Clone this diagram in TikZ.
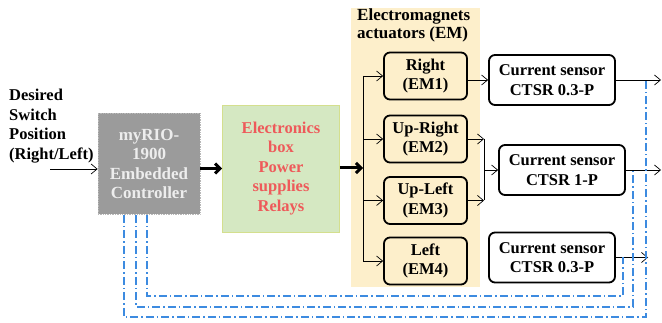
\documentclass[tikz,border=0pt]{standalone}
\usepackage{fontspec}
\setmainfont{Liberation Serif}
\usetikzlibrary{arrows.meta,calc}
\definecolor{rioGray}{HTML}{9B9B9B}
\definecolor{rioEdge}{HTML}{B8B8B8}
\definecolor{rioText}{HTML}{EDEDED}
\definecolor{boxGreen}{HTML}{D5E8C2}
\definecolor{boxGreenEdge}{HTML}{D4DF8E}
\definecolor{redText}{HTML}{EE5A5A}
\definecolor{panelYellow}{HTML}{FDEFCB}
\definecolor{sigBlue}{HTML}{3D8BE0}
\begin{document}
\begin{tikzpicture}[x=1pt,y=-1pt,
  txt/.style={font=\bfseries\fontsize{16.5}{19.5}\selectfont, align=center, inner sep=0pt},
  rndbox/.style={txt, draw, line width=1.8pt, rounded corners=6pt, inner sep=0pt},
  embox/.style={rndbox, minimum width=83pt, minimum height=47pt},
  sensbox/.style={rndbox, fill=white, minimum width=126pt, minimum height=50pt},
  thin arrow/.style={line width=0.7pt, -{Straight Barb[length=6pt,width=10pt]}},
  thick arrow/.style={line width=3pt, -{Straight Barb[length=5pt,width=10pt]}},
  sig/.style={draw=sigBlue, line width=1.1pt, dash pattern=on 8pt off 3pt on 1.5pt off 3pt}]
\useasboundingbox (0,0) rectangle (662,323);

% text on the left
\node[txt, align=left, anchor=west] (desired) at (9,126)
  {Desired\\Switch\\Position\\(Right/Left)};

% controller
\node[draw=rioEdge, densely dotted, line width=0.7pt, fill=rioGray,
  minimum width=102pt, minimum height=101pt, inner sep=0pt,
  font=\bfseries\fontsize{17}{19.5}\selectfont, text=rioText, align=center] (rio) at (149,164)
  {myRIO-\\1900\\Embedded\\Controller};

% electronics box
\node[draw=boxGreenEdge, line width=0.6pt, fill=boxGreen,
  minimum width=117pt, minimum height=127pt, txt, text=redText] (elec) at (281,168.5)
  {Electronics\\box\\Power\\supplies\\Relays};

% actuator panel
\node[fill=panelYellow, minimum width=129pt, minimum height=279pt, inner sep=0pt] (panel) at (415.5,147.5) {};
\node[txt, align=left, anchor=west, font=\bfseries\fontsize{17}{18}\selectfont] (paneltitle) at (357,25) {Electromagnets\\actuators (EM)};

% EM boxes
\node[embox] (em1) at (425.5,76) {Right\\(EM1)};
\node[embox] (em2) at (425.5,139) {Up-Right\\(EM2)};
\node[embox] (em3) at (425.5,200.5) {Up-Left\\(EM3)};
\node[embox] (em4) at (425.5,261) {Left\\(EM4)};

% sensors
\node[sensbox] (s1) at (552,80) {Current sensor\\CTSR 0.3-P};
\node[sensbox] (s2) at (562,170) {Current sensor\\CTSR 1-P};
\node[sensbox] (s3) at (552,257.5) {Current sensor\\CTSR 0.3-P};

% coordinates
\coordinate (inp) at (50,169);
\coordinate (trunk) at (363,168);
\coordinate (merge) at (484,170);
\coordinate (o1) at (661,80);
\coordinate (o2) at (661,170);
\coordinate (o3) at (648,257.5);
\coordinate (t1) at (646,80);
\coordinate (t2) at (633,170);
\coordinate (t3) at (623,257.5);

% input
\draw[thin arrow] (inp) -- (inp -| rio.west);

% thick arrows
\draw[thick arrow] (rio.east |- elec.west) -- (elec.west);
\draw[thick arrow] (elec.east |- trunk) -- (trunk);

% trunk and branches
\draw[line width=0.7pt] (trunk |- em1.west) -- (trunk |- em4.west);
\foreach \e in {em1,em2,em3,em4}
  \draw[thin arrow] (trunk |- \e.west) -- (\e.west);

% EM to sensors
\draw[thin arrow] (em1.east |- s1.west) -- (s1.west);
\draw[thin arrow] (em2.east) -- (merge |- em2.east);
\draw[thin arrow] (em3.east) -- (merge |- em3.east);
\draw[line width=0.7pt] (merge |- em2.east) -- (merge |- em3.east);
\draw[thin arrow] (merge) -- (merge -| s2.west);

% outputs
\draw[thin arrow] (s1.east) -- (o1);
\draw[thin arrow] (s2.east) -- (o2);
\draw[thin arrow] (s3.east) -- (o3);

% feedback lines
\draw[sig] (rio.south -| 147,0) -- (147,296) -- (623,296) -- (t3);
\draw[sig] (rio.south -| 136,0) -- (136,307) -- (633,307) -- (t2);
\draw[sig] (rio.south -| 124,0) -- (124,317) -- (646,317) -- (t1);
\end{tikzpicture}
\end{document}
